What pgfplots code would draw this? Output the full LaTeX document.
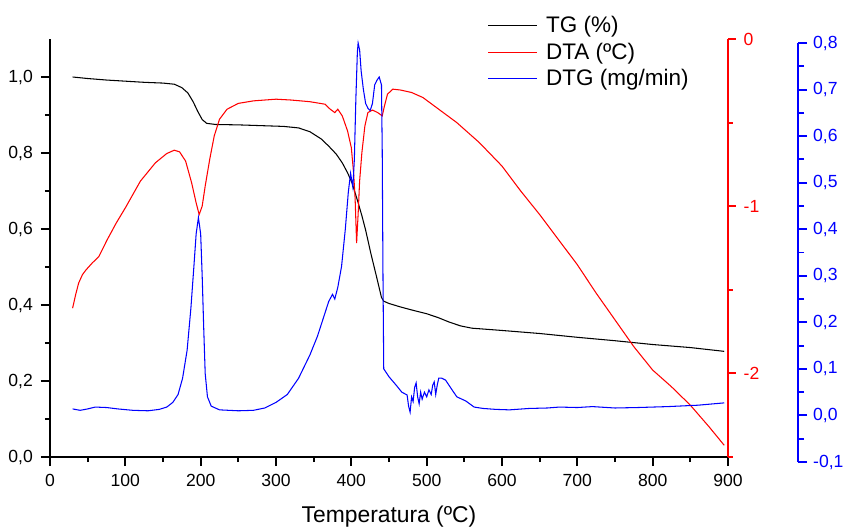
\documentclass[border=0pt]{standalone}
\usepackage{fontspec}
\setmainfont{Liberation Sans}
\usepackage{pgfplots}
\pgfplotsset{compat=1.18}

\pgfplotsset{
  tga/.style={
    scale only axis, anchor=south west,
    tick align=outside,
    major tick length=0.16cm, minor tick length=0.1cm,
    ticklabel style={font=\fontsize{10}{12}\selectfont},
    /pgf/number format/assume math mode=true,
    clip=false,
  },
  curve/.style={line width=0.6pt, mark=none},
}

\begin{document}
\begin{tikzpicture}
\useasboundingbox (-1.0cm,-1.4cm) rectangle (15.86cm,9.14cm);
% TG, left axis
\begin{axis}[tga, at={(0,0)},
  width=13.56cm, height=8.36cm,
  xmin=0, xmax=900, ymin=0, ymax=1.1,
  axis x line*=bottom, axis y line*=left,
  axis line style={line width=1.1pt},
  every tick/.style={line width=1.1pt, black},
  major tick length=0.18cm,
  xtick={0,100,...,900}, minor xtick={50,150,...,850},
  ytick={0,0.2,0.4,0.6,0.8,1.0}, minor ytick={0.1,0.3,0.5,0.7,0.9},
  yticklabel style={xshift=-0.04cm, /pgf/number format/.cd, fixed, fixed zerofill, precision=1, use comma},
  xticklabel style={yshift=-0.05cm, /pgf/number format/.cd, fixed, precision=0},
  xlabel={Temperatura (ºC)},
  xlabel style={font=\fontsize{13}{15}\selectfont, at={(axis description cs:0.5,-0.1435)}, anchor=center},
  legend style={at={(axis description cs:0.637,1.072)}, anchor=north west,
    draw=none, fill=none, font=\fontsize{12.8}{14}\selectfont, row sep=0.3pt},
  legend cell align=left,
  legend image code/.code={\draw[#1, line width=0.6pt] (0cm,0cm) -- (0.98cm,0cm); \path (1.08cm,0cm);},
]
\addplot[curve, black] coordinates {
(30,1.000)(50,0.996)(75,0.992)(100,0.989)(125,0.986)(150,0.984)(165,0.981)
(175,0.972)(183,0.958)(190,0.935)(196,0.910)(202,0.888)(208,0.878)(220,0.875)
(250,0.874)(280,0.872)(310,0.870)(330,0.866)(345,0.856)(360,0.837)(370,0.818)
(380,0.797)(388,0.774)(395,0.748)(401,0.721)(408,0.676)(414,0.635)(419,0.597)
(426,0.535)(434,0.470)(440,0.420)(443,0.410)(450,0.404)(465,0.395)(480,0.387)
(500,0.377)(515,0.367)(530,0.355)(545,0.345)(560,0.339)(580,0.336)(600,0.333)
(650,0.325)(700,0.315)(750,0.306)(800,0.296)(850,0.288)(895,0.278)
};
\addlegendentry{TG (\%)}
\addlegendimage{curve, red}
\addlegendentry{DTA (ºC)}
\addlegendimage{curve, blue}
\addlegendentry{DTG (mg/min)}
\end{axis}

% DTA, red right axis
\begin{axis}[tga, at={(0,0)},
  width=13.56cm, height=8.36cm,
  xmin=0, xmax=900, ymin=-2.5, ymax=0,
  axis x line=none, axis y line*=right,
  axis line style={line width=1.1pt, red},
  every tick/.style={line width=1.1pt, red},
  ytick={-2,-1,0}, minor ytick={-2.5,-1.5,-0.5},
  yticklabel style={red, xshift=0.03cm, /pgf/number format/.cd, fixed, precision=0},
]
\addplot[curve, red] coordinates {
(30,-1.61)(34,-1.53)(38,-1.46)(43,-1.41)(48,-1.38)(56,-1.34)(65,-1.30)(76,-1.20)
(88,-1.10)(100,-1.01)(120,-0.85)(140,-0.74)(155,-0.685)(165,-0.665)(172,-0.675)
(180,-0.73)(188,-0.86)(194,-0.98)(198,-1.05)(202,-1.00)(206,-0.88)(212,-0.72)
(218,-0.58)(225,-0.48)(235,-0.42)(250,-0.385)(270,-0.37)(300,-0.36)(320,-0.365)
(345,-0.375)(365,-0.39)(372,-0.42)(378,-0.44)(382,-0.42)(388,-0.46)(395,-0.55)
(400,-0.65)(403,-0.80)(405,-0.95)(407,-1.22)(409,-1.05)(411,-0.85)(414,-0.68)
(418,-0.52)(422,-0.44)(428,-0.425)(435,-0.44)(441,-0.46)(444,-0.40)(448,-0.33)
(455,-0.30)(465,-0.305)(480,-0.32)(495,-0.35)(510,-0.40)(525,-0.45)(540,-0.50)
(555,-0.56)(570,-0.62)(585,-0.69)(600,-0.76)(625,-0.91)(650,-1.05)(675,-1.20)
(700,-1.35)(725,-1.52)(750,-1.68)(775,-1.84)(800,-1.98)(825,-2.08)(850,-2.19)
(875,-2.32)(895,-2.43)
};
\end{axis}

% DTG, blue outer right axis
\begin{axis}[tga, at={(0,-0.1cm)},
  width=14.96cm, height=8.38cm,
  xmin=0, xmax=992.9, ymin=-0.1, ymax=0.8,
  axis x line=none, axis y line*=right,
  axis line style={line width=1.1pt, blue},
  every tick/.style={line width=1.1pt, blue},
  major tick length=0.18cm, minor tick length=0.12cm,
  ytick={-0.1,0,0.1,0.2,0.3,0.4,0.5,0.6,0.7,0.8},
  minor ytick={-0.05,0.05,0.15,0.25,0.35,0.45,0.55,0.65,0.75},
  yticklabel style={blue, /pgf/number format/.cd, fixed, fixed zerofill, precision=1, use comma},
]
\addplot[curve, blue] coordinates {
(30,0.014)(40,0.011)(50,0.014)(60,0.018)(75,0.017)(90,0.014)(110,0.011)(130,0.010)
(145,0.013)(155,0.018)(163,0.028)(170,0.045)(176,0.08)(182,0.14)(187,0.23)(191,0.32)
(194,0.39)(197,0.425)(200,0.39)(202,0.30)(204,0.19)(206,0.09)(209,0.04)(214,0.02)
(225,0.012)(250,0.010)(270,0.011)(285,0.016)(300,0.028)(315,0.045)(330,0.08)
(345,0.13)(355,0.17)(363,0.21)(370,0.245)(375,0.26)(378,0.25)(382,0.275)(387,0.32)
(392,0.40)(396,0.48)(399,0.52)(402,0.49)(404,0.55)(406,0.68)(408,0.78)(409,0.80)
(411,0.785)(413,0.74)(416,0.70)(419,0.67)(422,0.66)(425,0.655)(428,0.67)(431,0.71)
(434,0.72)(437,0.727)(440,0.71)(441,0.57)(442,0.30)(443,0.10)(450,0.083)(459,0.066)
(467,0.05)(474,0.044)(476,0.02)(478,0.007)(480,0.04)(482,0.03)(484,0.06)(486,0.07)
(488,0.04)(490,0.025)(492,0.05)(494,0.035)(497,0.05)(500,0.04)(503,0.055)(506,0.045)
(508,0.065)(510,0.072)(512,0.045)(514,0.065)(516,0.08)(520,0.08)(525,0.076)
(532,0.059)(540,0.04)(552,0.031)(563,0.018)(575,0.015)(592,0.013)(610,0.012)
(636,0.015)(660,0.016)(676,0.018)(700,0.017)(720,0.019)(750,0.016)(780,0.017)
(820,0.019)(860,0.022)(895,0.027)
};
\end{axis}
\end{tikzpicture}
\end{document}
